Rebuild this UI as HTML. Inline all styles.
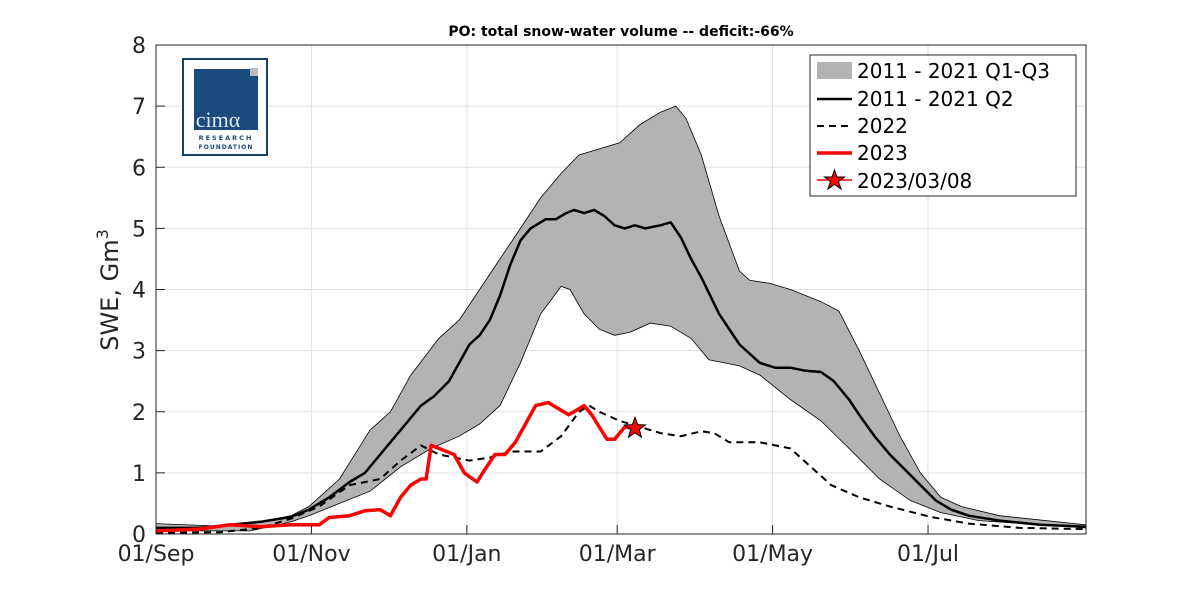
<!DOCTYPE html>
<html><head><meta charset="utf-8"><style>
body{margin:0;background:#fff;width:1200px;height:600px;overflow:hidden;font-family:"DejaVu Sans","Liberation Sans",sans-serif}
</style></head><body>
<svg id="c" width="1200" height="600" xmlns="http://www.w3.org/2000/svg">
<text x="621" y="36" font-size="14" font-weight="bold" text-anchor="middle" font-family="DejaVu Sans, sans-serif">PO: total snow-water volume -- deficit:-66%</text>
<g id="grid"></g><g id="series"></g>
<rect x="156" y="45" width="930" height="489" fill="none" stroke="#262626" stroke-width="1"/>
<g id="axes"></g>
<text transform="translate(118,290) rotate(-90)" font-size="24" text-anchor="middle" fill="#262626">SWE, Gm<tspan font-size="16" dy="-10">3</tspan></text>
<g>
<rect x="183" y="59" width="84" height="96" fill="#fff" stroke="#1a3f6e" stroke-width="2"/>
<rect x="193" y="68" width="66" height="85" fill="#fff"/>
<rect x="194" y="69" width="64" height="61" fill="#1a4a7e"/>
<rect x="250" y="68" width="8" height="8" fill="#bbb"/>
<text x="218" y="127" font-size="22" fill="#dfe6ef" font-family="Liberation Serif, serif" text-anchor="middle">cimα</text>
<text x="226" y="140" font-size="6.5" font-weight="bold" fill="#1a4a7e" text-anchor="middle" letter-spacing="2">RESEARCH</text>
<text x="226" y="149" font-size="6" font-weight="bold" fill="#1a4a7e" text-anchor="middle" letter-spacing="1">FOUNDATION</text>
</g>
<g>
<rect x="810" y="55" width="266" height="141" fill="#fff" stroke="#262626"/>
<rect x="817" y="62" width="35" height="17" fill="#b3b3b3"/>
<text x="857" y="78" font-size="20" fill="#000">2011 - 2021 Q1-Q3</text>
<line x1="817" y1="99" x2="852" y2="99" stroke="#000" stroke-width="2.5"/>
<text x="857" y="106" font-size="20">2011 - 2021 Q2</text>
<line x1="817" y1="126" x2="852" y2="126" stroke="#000" stroke-width="2" stroke-dasharray="7,5"/>
<text x="857" y="133" font-size="20">2022</text>
<line x1="817" y1="153" x2="852" y2="153" stroke="#f00" stroke-width="3.5"/>
<text x="857" y="160" font-size="20">2023</text>
<line x1="817" y1="180" x2="852" y2="180" stroke="#f00" stroke-width="1.5"/>
<polygon points="834.5,170 837,177 844.5,177 838.5,181.5 841,189 834.5,184.5 828,189 830.5,181.5 824.5,177 832,177" fill="#f00" stroke="#000"/>
<text x="857" y="188" font-size="20">2023/03/08</text>
</g>
</svg>
<script>
const yTicks=[0,1,2,3,4,5,6,7,8];
const xTickDays=[0,61,122,181,242,303];
const xTickLabels=["01/Sep","01/Nov","01/Jan","01/Mar","01/May","01/Jul"];
const q2Days=[0,17,29,41,53,60,68,76,82,88,96,104,109,115,119,123,127,131,135,139,143,147,153,157,161,164,168,172,176,180,184,188,192,198,202,206,210,214,221,229,237,243,249,255,261,266,272,276,282,288,294,300,306,312,319,331,347,365];
const q2Vals=[0.1,0.1,0.15,0.2,0.28,0.4,0.6,0.85,1.0,1.3,1.7,2.1,2.25,2.5,2.8,3.1,3.25,3.5,3.9,4.4,4.8,5.0,5.15,5.15,5.25,5.3,5.25,5.3,5.2,5.05,5.0,5.05,5.0,5.05,5.1,4.85,4.5,4.2,3.6,3.1,2.8,2.72,2.72,2.67,2.65,2.5,2.2,1.95,1.6,1.3,1.05,0.8,0.55,0.4,0.3,0.22,0.15,0.12];
const q3Days=[0,25,41,53,60,72,84,92,100,111,119,127,135,143,151,159,166,174,182,190,198,204,208,214,221,229,233,241,249,261,268,276,284,292,300,308,316,331,365];
const q3Vals=[0.17,0.13,0.2,0.3,0.45,0.9,1.7,2.0,2.6,3.2,3.5,4.0,4.5,5.0,5.5,5.9,6.2,6.3,6.4,6.7,6.9,7.0,6.8,6.2,5.2,4.3,4.15,4.1,4.0,3.8,3.65,3.0,2.3,1.6,1.0,0.6,0.45,0.3,0.15];
const q1Days=[0,37,53,60,72,84,96,108,119,127,135,143,151,159,162.5,168,174,180,186,194,202,210,217,229,237,249,261,272,284,296,308,323,365];
const q1Vals=[0.05,0.05,0.2,0.3,0.5,0.7,1.1,1.4,1.6,1.8,2.1,2.8,3.6,4.05,4.0,3.6,3.35,3.25,3.3,3.45,3.4,3.2,2.85,2.75,2.6,2.2,1.85,1.4,0.9,0.55,0.35,0.22,0.1];
const y22Days=[0,25,41,53,64,76,88,96,104,111,123,131,139,151,159,166,170,174,182,190,198,206,214,219,225,237,249,257,265,276,288,304,319,339,365];
const y22Vals=[0.02,0.03,0.1,0.25,0.45,0.8,0.9,1.2,1.45,1.3,1.2,1.25,1.35,1.35,1.6,2.0,2.1,2.0,1.85,1.75,1.65,1.6,1.68,1.65,1.5,1.5,1.4,1.1,0.8,0.6,0.45,0.28,0.17,0.1,0.08];
const y23Days=[0,17,29,41,53,64,68,76,82,88,92,96,100,104,106,108,111,117,121,126,129,133,137,141,145,149,154,158,162,166,168,171,174,177,180,184,188];
const y23Vals=[0.05,0.08,0.15,0.12,0.15,0.15,0.27,0.3,0.38,0.4,0.3,0.6,0.8,0.9,0.9,1.45,1.4,1.3,1.0,0.85,1.05,1.3,1.3,1.5,1.8,2.1,2.15,2.05,1.95,2.05,2.1,1.95,1.75,1.55,1.55,1.75,1.73];
const starDay=188, starVal=1.73;

const NS="http://www.w3.org/2000/svg";
const X0=156,X1=1086,Y0=534,Y1=45;
const sx=d=>X0+(X1-X0)*d/365;
const sy=v=>Y0-(Y0-Y1)*v/8;
function mk(tag,attrs,parent){const e=document.createElementNS(NS,tag);for(const k in attrs)e.setAttribute(k,attrs[k]);parent.appendChild(e);return e;}
const grid=document.getElementById('grid'),axes=document.getElementById('axes'),ser=document.getElementById('series');
yTicks.forEach(v=>{
 const l=mk('line',{x1:X0,x2:X1,y1:sy(v),y2:sy(v),stroke:'#e0e0e0','stroke-width':1},grid);
 
 
 const t=mk('line',{x1:X0,x2:X0+9,y1:sy(v),y2:sy(v),stroke:'#262626'},axes);
 const tx=mk('text',{x:X0-10,y:sy(v)+8,'font-size':22,'text-anchor':'end',fill:'#262626'},axes);
 tx.textContent=v;
 
 
});
xTickDays.forEach((d,i)=>{
 const l=mk('line',{x1:sx(d),x2:sx(d),y1:Y1,y2:Y0,stroke:'#e0e0e0'},grid);
 
 
 mk('line',{x1:sx(d),x2:sx(d),y1:Y0,y2:Y0-9,stroke:'#262626'},axes);
 const tx=mk('text',{x:sx(d),y:Y0+27,'font-size':22,'text-anchor':'middle',fill:'#262626'},axes);
 tx.textContent=xTickLabels[i];
 
 
});
const pts=(ds,vs)=>ds.map((d,i)=>sx(d).toFixed(1)+','+sy(vs[i]).toFixed(1));
const band=pts(q3Days,q3Vals).concat(pts(q1Days,q1Vals).reverse());
const b=mk('polygon',{points:band.join(' '),fill:'#b3b3b3',stroke:'#000','stroke-width':0.8},ser);


const l2=mk('polyline',{points:pts(q2Days,q2Vals).join(' '),fill:'none',stroke:'#000','stroke-width':2.5,'stroke-linejoin':'round'},ser);


const l22=mk('polyline',{points:pts(y22Days,y22Vals).join(' '),fill:'none',stroke:'#000','stroke-width':2,'stroke-dasharray':'7,5'},ser);


const l23=mk('polyline',{points:pts(y23Days,y23Vals).join(' '),fill:'none',stroke:'#f00','stroke-width':3.5,'stroke-linejoin':'round'},ser);


const cx=sx(starDay),cy=sy(starVal);let sp=[];
for(let i=0;i<10;i++){const r=i%2?4.5:11;const a=-Math.PI/2+i*Math.PI/5;sp.push((cx+r*Math.cos(a)).toFixed(1)+','+(cy+r*Math.sin(a)).toFixed(1));}
const st=mk('polygon',{points:sp.join(' '),fill:'#f00',stroke:'#000','stroke-width':1},ser);


</script>
</body></html>
